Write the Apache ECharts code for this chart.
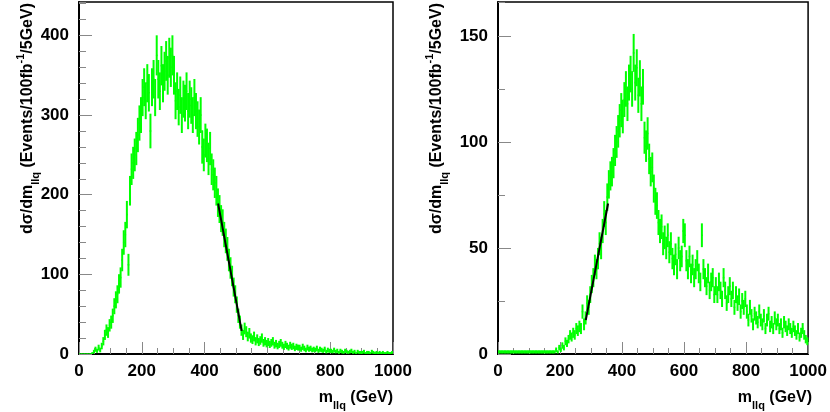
<!DOCTYPE html>
<html>
<head>
<meta charset="utf-8">
<script src="https://cdn.jsdelivr.net/npm/echarts@6/dist/echarts.min.js"></script>
<style>
  html, body { margin: 0; padding: 0; background: #fff; }
  #chart { width: 830px; height: 412px; }
</style>
</head>
<body>
<div id="chart"></div>
<script>
// histogram: 200 bins of 5 GeV, 0..1000
var binWidth = 5;

// left panel counts per bin
var leftCounts = [
  0,0,0,0,0,0,0,0,1,3,
  6,4,8,5,10,16,24,30,27,36,
  40,48,60,68,75,88,96,118,140,150,
  175,112,205,232,240,250,258,275,290,300,
  322,335,318,340,328,280,335,345,322,375,
  345,330,362,340,355,368,350,372,360,375,
  350,318,330,310,325,300,320,315,330,305,
  320,312,300,322,305,295,285,300,260,250,
  268,262,245,258,232,225,215,205,190,182,
  170,165,150,142,132,118,108,98,84,75,
  62,48,40,30,24,32,28,22,26,20,
  18,22,16,19,15,17,20,14,16,13,
  15,12,14,16,11,13,10,12,14,11,
  9,12,10,8,11,9,10,7,9,8,
  8,6,9,7,5,8,6,7,5,6,
  5,7,4,6,5,4,6,3,5,4,
  4,3,5,3,4,2,4,3,2,4,
  3,2,3,4,2,3,1,3,2,2,
  2,3,1,2,2,1,3,2,1,2,
  1,2,1,2,1,1,2,1,1,2
];

// right panel counts per bin
var rightCounts = [
  1,1,1,1,1,1,1,1,1,1,
  1,1,1,1,1,1,1,1,1,1,
  1,1,1,1,1,1,1,1,1,1,
  1,1,1,1,1,1,1,2,1,3,
  2,4,3,6,5,7,9,8,10,9,
  12,11,13,12,20,14,17,24,22,28,
  33,36,42,40,45,52,50,58,66,62,
  74,80,84,86,90,96,100,105,110,115,
  112,120,125,118,128,132,125,142,128,135,
  122,130,118,126,102,98,104,92,86,88,
  78,72,70,62,58,60,52,55,50,56,
  48,52,45,42,47,40,50,44,46,58,
  56,44,40,46,38,42,36,40,44,38,
  34,56,40,36,32,38,30,34,36,28,
  32,28,34,30,26,36,30,24,28,32,
  26,30,22,28,24,27,20,25,22,26,
  20,16,22,18,14,19,17,15,20,16,
  14,18,12,16,19,13,15,12,17,14,
  16,12,14,10,15,13,11,14,12,10,
  13,11,9,12,8,10,12,9,7,6
];

// error bar scale (err = k * sqrt(count))
var leftErrScale = 1.3;
var rightErrScale = 0.75;

// fitted straight lines [GeV, value]
var leftFit = [[443, 189], [518, 29]];
var rightFit = [[283, 16], [355, 71]];

var xTicks = { min: 0, max: 1000, interval: 200 };
var leftY = { max: 442, major: 100, minor: 20 };
var rightY = { max: 166, major: 50, minor: 25 };

var green = '#00ff00';
var font = 'Liberation Sans, Arial, Helvetica, sans-serif';

function toBars(counts, k) {
  var out = [];
  for (var i = 0; i < counts.length; i++) {
    out.push([binWidth * i + binWidth / 2, counts[i], k * Math.sqrt(counts[i])]);
  }
  return out;
}

function renderBars(params, api) {
  var x = api.value(0), y = api.value(1), e = api.value(2);
  var a = api.coord([x - binWidth / 2, y]);
  var b = api.coord([x + binWidth / 2, y]);
  var lo = api.coord([x, Math.max(0, y - e)]);
  var hi = api.coord([x, y + e]);
  return {
    type: 'group',
    children: [
      { type: 'line', shape: { x1: a[0], y1: a[1], x2: b[0], y2: b[1] }, style: { stroke: green, lineWidth: 1.6 } },
      { type: 'line', shape: { x1: lo[0], y1: lo[1], x2: hi[0], y2: hi[1] }, style: { stroke: green, lineWidth: 2 } }
    ]
  };
}

var labelStyle = { color: '#000', fontFamily: font, fontWeight: 'bold', fontSize: 17 };

function xAxisFor(g) {
  return {
    type: 'value', gridIndex: g, min: xTicks.min, max: xTicks.max, interval: xTicks.interval,
    axisLine: { lineStyle: { color: '#000', width: 2 } },
    axisTick: { inside: true, length: 12, lineStyle: { color: '#888' } },
    minorTick: { show: true, splitNumber: 4, length: 6, lineStyle: { color: '#888' } },
    splitLine: { show: false },
    axisLabel: Object.assign({ margin: 9, formatter: function (v) { return String(v); } }, labelStyle)
  };
}

function yMajor(g, cfg) {
  return {
    type: 'value', gridIndex: g, min: 0, max: cfg.max, interval: cfg.major,
    axisLine: { show: true, lineStyle: { color: '#000', width: 2 } },
    axisTick: { inside: true, length: 13, lineStyle: { color: '#888' } },
    splitLine: { show: false },
    axisLabel: Object.assign({
      margin: 10, showMaxLabel: false,
      formatter: function (v) { return v % cfg.major === 0 ? String(v) : ''; }
    }, labelStyle)
  };
}

function yMinor(g, cfg) {
  return {
    type: 'value', gridIndex: g, position: 'left', min: 0, max: cfg.max, interval: cfg.minor,
    axisLine: { show: false },
    axisTick: { inside: true, length: 7, lineStyle: { color: '#888' } },
    splitLine: { show: false },
    axisLabel: { show: false }
  };
}

var richTitle = {
  b: { fontFamily: font, fontWeight: 'bold', fontSize: 16, lineHeight: 26, verticalAlign: 'middle', fill: '#000' },
  s: { fontFamily: font, fontWeight: 'bold', fontSize: 11, lineHeight: 11, verticalAlign: 'bottom', fill: '#000' },
  p: { fontFamily: font, fontWeight: 'bold', fontSize: 11, lineHeight: 11, verticalAlign: 'top', fill: '#000' }
};
var yTitle = '{b|dσ/dm}{s|llq}{b| (Events/100fb}{p|-1}{b|/5GeV)}';
var xTitle = '{b|m}{s|llq}{b| (GeV)}';

function yTitleAt(x) {
  return {
    type: 'text', x: x, y: 3, rotation: Math.PI / 2,
    style: { text: yTitle, rich: richTitle, align: 'right', verticalAlign: 'middle', fill: '#000' }
  };
}
function xTitleAt(x) {
  return {
    type: 'text', x: x, y: 398,
    style: { text: xTitle, rich: richTitle, align: 'right', verticalAlign: 'middle', fill: '#000' }
  };
}

var chart = echarts.init(document.getElementById('chart'), null, { renderer: 'canvas' });
chart.setOption({
  animation: false,
  backgroundColor: '#fff',
  grid: [
    { left: 79, right: 437, top: 2, bottom: 58, show: true, borderColor: '#000', borderWidth: 1.5, containLabel: false },
    { left: 498, right: 18, top: 2, bottom: 58, show: true, borderColor: '#000', borderWidth: 1.5, containLabel: false }
  ],
  xAxis: [xAxisFor(0), xAxisFor(1)],
  yAxis: [yMajor(0, leftY), yMinor(0, leftY), yMajor(1, rightY), yMinor(1, rightY)],
  graphic: [yTitleAt(28), yTitleAt(437), xTitleAt(393), xTitleAt(812)],
  series: [
    { type: 'custom', xAxisIndex: 0, yAxisIndex: 0, renderItem: renderBars, data: toBars(leftCounts, leftErrScale), clip: true, silent: true },
    { type: 'custom', xAxisIndex: 1, yAxisIndex: 2, renderItem: renderBars, data: toBars(rightCounts, rightErrScale), clip: true, silent: true },
    { type: 'line', xAxisIndex: 0, yAxisIndex: 0, data: leftFit, showSymbol: false, lineStyle: { color: '#000', width: 2 }, silent: true },
    { type: 'line', xAxisIndex: 1, yAxisIndex: 2, data: rightFit, showSymbol: false, lineStyle: { color: '#000', width: 2 }, silent: true }
  ]
});
</script>
</body>
</html>
